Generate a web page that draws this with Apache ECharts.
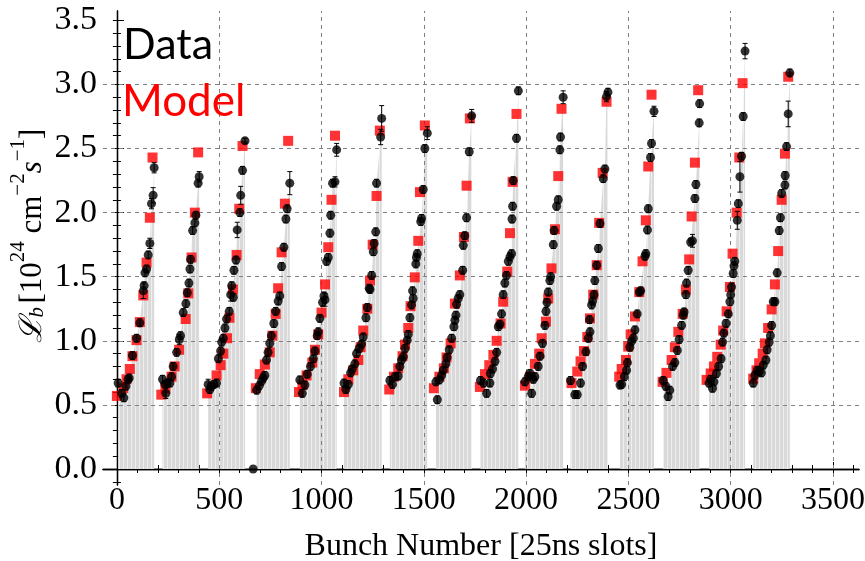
<!DOCTYPE html>
<html><head><meta charset="utf-8">
<script src="https://cdn.jsdelivr.net/npm/echarts@6/dist/echarts.min.js"></script>
<style>html,body{margin:0;padding:0;background:#fff}#c{width:865px;height:561px}</style>
</head><body><div id="c"></div>
<script>
// ---- tick labels / axes ----
const xTickLabels = [0, 500, 1000, 1500, 2000, 2500, 3000, 3500];
const yTickLabels = [0, 0.5, 1.0, 1.5, 2.0, 2.5, 3.0, 3.5];
const xGridValues = [500, 1000, 1500, 2000, 2500, 3000, 3500];
const yGridValues = [0.5, 1.0, 1.5, 2.0, 2.5, 3.0];
const xAxisTitle = 'Bunch Number [25ns slots]';
const legendLabels = ['Data', 'Model'];

// ---- measured bunch luminosity: [bunch, L, error] ----
const dataPoints = [
  // train 1
  [6,0.67,.03],[23,0.59,.03],[34,0.555,.03],[44,0.646,.03],[55,0.70,.03],[60,0.71,.03],[76,0.885,.03],[96,1.02,.03],[112,1.14,.03],[129,1.39,.06],[133,1.43,.03],[137,1.53,.03],[145,1.56,.03],[153,1.67,.03],[161,1.76,.04],[169,2.07,.04],[177,2.135,.06],[182,2.35,.04],
  // train 2
  [223,0.70,.03],[235,0.66,.03],[239,0.59,.04],[246,0.67,.03],[259,0.67,.03],[267,0.72,.03],[275,0.80,.03],[292,0.91,.03],[305,1.01,.04],[311,1.04,.03],[324,1.22,.03],[337,1.29,.03],[344,1.375,.03],[352,1.45,.03],[357,1.56,.03],[360,1.635,.03],[370,1.86,.03],[381,1.92,.03],[386,1.98,.03],[397,2.23,.03],[402,2.28,.04],
  // train 3
  [446,0.66,.04],[454,0.62,.03],[462,0.645,.03],[474,0.66,.03],[487,0.67,.03],[496,0.86,.03],[507,0.92,.03],[512,0.99,.03],[520,1.02,.03],[528,1.10,.03],[536,1.17,.03],[549,1.23,.03],[556,1.36,.05],[561,1.43,.03],[569,1.34,.03],[572,1.55,.03],[582,1.63,.03],[588,1.865,.06],[601,2.0,.03],[605,2.135,.07],[614,2.33,.03],[626,2.56,.02],
  [666,0.0,0],
  // train 4
  [683,0.615,.03],[696,0.65,.03],[707,0.685,.03],[715,0.71,.03],[723,0.73,.03],[731,0.85,.03],[739,0.91,.03],[747,0.98,.03],[755,1.04,.03],[767,1.135,.03],[776,1.23,.03],[788,1.31,.03],[796,1.35,.03],[805,1.58,.03],[816,1.73,.03],[826,1.95,.03],[832,2.03,.03],[845,2.23,.09],
  // train 5
  [894,0.695,.03],[906,0.59,.03],[919,0.655,.03],[930,0.74,.03],[946,0.80,.03],[960,0.86,.03],[968,0.92,.03],[979,1.04,.03],[984,1.07,.03],[992,1.175,.03],[1005,1.30,.03],[1012,1.35,.03],[1017,1.32,.05],[1025,1.62,.03],[1033,1.65,.03],[1041,1.84,.03],[1045,1.98,.03],[1054,2.23,.03],[1066,2.24,.04],[1074,2.49,.05],
  // train 6
  [1110,0.67,.03],[1119,0.62,.03],[1131,0.66,.03],[1142,0.75,.03],[1150,0.78,.03],[1163,0.82,.03],[1171,0.90,.03],[1184,0.94,.03],[1196,0.975,.03],[1204,1.03,.03],[1217,1.18,.03],[1224,1.26,.03],[1233,1.41,.03],[1237,1.40,.03],[1245,1.51,.03],[1253,1.695,.03],[1257,1.76,.03],[1265,1.85,.03],[1269,2.23,.03],[1289,2.59,.06],[1294,2.735,.1],
  // train 7
  [1334,0.69,.03],[1347,0.66,.03],[1359,0.72,.03],[1375,0.725,.03],[1383,0.80,.03],[1391,0.85,.03],[1400,0.875,.03],[1408,0.94,.03],[1419,1.005,.03],[1424,1.05,.03],[1432,1.18,.03],[1440,1.28,.03],[1445,1.39,.03],[1448,1.33,.03],[1461,1.60,.03],[1464,1.65,.03],[1468,1.68,.03],[1485,1.93,.03],[1489,1.955,.03],[1497,2.18,.03],[1505,2.50,.03],[1517,2.62,.05],
  // train 8
  [1559,0.68,.03],[1566,0.54,.03],[1576,0.695,.03],[1587,0.73,.03],[1595,0.77,.03],[1608,0.82,.03],[1614,0.87,.03],[1624,0.93,.03],[1636,1.02,.03],[1647,1.11,.03],[1652,1.16,.03],[1657,1.20,.03],[1660,1.285,.03],[1668,1.33,.03],[1676,1.36,.03],[1690,1.55,.03],[1693,1.745,.03],[1700,1.82,.03],[1709,1.96,.03],[1722,2.475,.03],[1734,2.755,.05],
  // train 9
  [1777,0.69,.03],[1792,0.67,.03],[1807,0.59,.03],[1823,0.67,.03],[1825,0.745,.03],[1836,0.78,.03],[1848,0.84,.03],[1856,0.91,.03],[1864,1.11,.03],[1872,1.13,.03],[1880,1.21,.03],[1888,1.36,.03],[1896,1.45,.03],[1904,1.51,.03],[1913,1.62,.03],[1921,1.655,.03],[1929,1.68,.03],[1931,1.95,.03],[1934,2.05,.03],[1937,2.25,.03],[1953,2.58,.03],[1962,2.95,.03],
  // train 10
  [1994,0.68,.03],[2010,0.72,.03],[2019,0.745,.03],[2027,0.59,.03],[2035,0.70,.03],[2043,0.72,.03],[2059,0.80,.03],[2068,0.88,.03],[2080,0.98,.03],[2092,1.12,.03],[2097,1.23,.03],[2102,1.30,.03],[2108,1.38,.03],[2116,1.47,.03],[2120,1.50,.03],[2133,1.75,.03],[2137,1.86,.03],[2149,2.05,.03],[2157,2.10,.03],[2165,2.49,.03],[2168,2.59,.03],[2181,2.90,.05],
  // train 11
  [2217,0.69,.03],[2238,0.58,.03],[2250,0.58,.03],[2266,0.67,.03],[2276,0.80,.03],[2292,0.915,.03],[2304,1.02,.03],[2310,1.165,.03],[2312,1.07,.03],[2320,1.28,.03],[2325,1.31,.03],[2332,1.36,.03],[2336,1.47,.03],[2345,1.59,.03],[2353,1.72,.03],[2361,1.915,.03],[2377,2.265,.03],[2385,2.34,.03],[2393,2.905,.04],[2400,2.94,.03],
  // train 12
  [2459,0.655,.03],[2467,0.66,.03],[2480,0.72,.03],[2491,0.77,.03],[2495,0.83,.03],[2507,0.95,.03],[2515,0.995,.03],[2524,1.02,.03],[2532,1.085,.03],[2543,1.21,.03],[2553,1.38,.03],[2560,1.39,.03],[2581,1.66,.03],[2585,1.68,.03],[2593,1.865,.03],[2597,2.03,.03],[2608,2.43,.03],[2613,2.54,.03],[2625,2.79,.04],
  // train 13
  [2670,0.69,.03],[2683,0.645,.03],[2694,0.565,.03],[2702,0.615,.03],[2716,0.80,.03],[2727,0.83,.03],[2739,0.925,.03],[2748,1.01,.03],[2760,1.12,.03],[2768,1.20,.03],[2772,1.225,.03],[2781,1.36,.03],[2784,1.45,.03],[2792,1.55,.03],[2804,1.77,.03],[2813,1.78,.05],[2825,2.11,.03],[2830,2.22,.03],[2846,2.70,.03],[2848,2.85,.03],
  // train 14
  [2894,0.67,.03],[2902,0.70,.03],[2911,0.63,.03],[2918,0.68,.03],[2930,0.745,.03],[2941,0.80,.03],[2953,0.86,.03],[2960,0.99,.03],[2966,1.06,.03],[2977,1.135,.03],[2988,1.21,.03],[2996,1.305,.03],[3000,1.36,.03],[3004,1.42,.03],[3012,1.525,.03],[3016,1.585,.03],[3020,1.62,.03],[3032,1.94,.07],[3037,2.07,.03],[3045,2.28,.12],[3053,2.44,.03],[3061,2.75,.03],[3070,3.26,.06],
  // train 15
  [3110,0.67,.03],[3118,0.73,.03],[3130,0.77,.03],[3139,0.76,.03],[3150,0.75,.03],[3159,0.81,.03],[3172,0.85,.03],[3178,0.93,.03],[3188,0.99,.03],[3194,1.04,.03],[3200,1.12,.03],[3208,1.305,.03],[3216,1.305,.03],[3227,1.53,.03],[3237,1.86,.03],[3243,1.96,.03],[3249,2.15,.03],[3265,2.215,.03],[3266,2.29,.03],[3273,2.515,.03],[3281,2.77,.1],[3289,3.09,.03]
];

// ---- model prediction: [bunch, L] ----
const modelPoints = [
  [0,0.57],[31,0.63],[47,0.70],[63,0.78],[76,0.88],[96,1.005],[112,1.146],[129,1.354],[145,1.61],[161,1.96],[174,2.43],
  [217,0.58],[237,0.63],[267,0.72],[282,0.80],[304,0.93],[336,1.17],[349,1.37],[365,1.65],[381,2.0],[397,2.47],
  [441,0.59],[487,0.73],[507,0.81],[520,0.90],[538,1.02],[550,1.18],[567,1.40],[585,1.67],[598,2.03],[614,2.52],
  [679,0.63],[698,0.74],[723,0.815],[747,0.91],[760,1.04],[776,1.21],[788,1.41],[805,1.69],[821,2.07],[837,2.56],
  [890,0.60],[907,0.655],[927,0.73],[955,0.83],[968,0.93],[984,1.05],[1000,1.22],[1017,1.44],[1033,1.73],[1049,2.10],[1066,2.60],
  [1110,0.60],[1131,0.70],[1155,0.77],[1180,0.85],[1191,0.95],[1204,1.08],[1224,1.25],[1237,1.47],[1250,1.75],[1269,2.13],[1285,2.64],
  [1331,0.62],[1354,0.72],[1375,0.785],[1396,0.88],[1408,0.97],[1424,1.10],[1435,1.27],[1456,1.495],[1473,1.78],[1481,2.16],[1505,2.68],
  [1549,0.63],[1576,0.72],[1598,0.785],[1611,0.87],[1631,0.98],[1652,1.29],[1676,1.51],[1696,1.81],[1709,2.21],[1725,2.735],
  [1774,0.64],[1799,0.74],[1820,0.81],[1840,0.89],[1856,1.00],[1875,1.135],[1888,1.305],[1908,1.54],[1921,1.84],[1934,2.24],[1953,2.77],
  [1994,0.65],[2019,0.72],[2043,0.82],[2064,0.90],[2076,1.02],[2097,1.15],[2108,1.33],[2124,1.565],[2141,1.87],[2157,2.285],[2173,2.81],
  [2222,0.67],[2250,0.76],[2266,0.84],[2283,0.92],[2299,1.03],[2312,1.175],[2328,1.36],[2345,1.59],[2357,1.92],[2374,2.31],[2393,2.865],
  [2455,0.72],[2467,0.78],[2488,0.85],[2499,0.955],[2511,1.05],[2532,1.19],[2553,1.38],[2569,1.62],[2585,1.94],[2597,2.36],[2613,2.92],
  [2667,0.68],[2686,0.75],[2711,0.85],[2727,0.95],[2744,1.07],[2765,1.21],[2781,1.40],[2797,1.635],[2809,1.97],[2825,2.39],[2841,2.955],
  [2882,0.695],[2902,0.745],[2918,0.80],[2934,0.875],[2951,0.97],[2963,1.08],[2980,1.23],[2996,1.42],[3009,1.68],[3029,2.0],[3042,2.43],[3058,3.01],
  [3110,0.705],[3126,0.77],[3139,0.825],[3156,0.90],[3167,0.98],[3183,1.10],[3200,1.245],[3216,1.44],[3232,1.70],[3249,2.10],[3265,2.46],[3281,3.06]
];

// ---------------- build ----------------
const X_MIN = -68, X_MAX = 3627, Y_MIN = -0.125, Y_MAX = 3.573;
const xMinorTicks = []; for (let i = 0; i <= 36; i++) xMinorTicks.push(i * 100);
const yMinorTicks = []; for (let i = -1; i <= 35; i++) yMinorTicks.push(+(i * 0.1).toFixed(1));

// group measured points into trains (for the grey stems area)
const sorted = dataPoints.filter(p => p[1] > 0).slice().sort((a, b) => a[0] - b[0]);
const trains = [];
let cur = [];
sorted.forEach(p => {
  if (cur.length && p[0] - cur[cur.length - 1][0] > 25) { trains.push(cur); cur = []; }
  cur.push([p[0], p[1]]);
});
if (cur.length) trains.push(cur);

// stripe pattern for the grey stems
const pc = document.createElement('canvas');
pc.width = 4; pc.height = 4;
const pctx = pc.getContext('2d');
pctx.fillStyle = '#d9d9d9'; pctx.fillRect(0, 0, 4, 4);
pctx.fillStyle = '#eeeeee'; pctx.fillRect(3, 0, 1, 4);

const SERIF = "'Liberation Serif','Times New Roman',serif";
const AX = '#000';

function baseX(extra) {
  return Object.assign({
    type: 'value', min: X_MIN, max: X_MAX, gridIndex: 0,
    splitLine: { show: false }, axisLine: { show: false },
    axisTick: { show: false }, axisLabel: { show: false }
  }, extra);
}
function baseY(extra) {
  return Object.assign({
    type: 'value', min: Y_MIN, max: Y_MAX, gridIndex: 0,
    splitLine: { show: false }, axisLine: { show: false },
    axisTick: { show: false }, axisLabel: { show: false }
  }, extra);
}

const series = [];
trains.forEach((t, i) => {
  const s = {
    type: 'line', data: t, xAxisIndex: 0, yAxisIndex: 0,
    showSymbol: false, symbol: 'none', silent: true, z: 1,
    lineStyle: { width: 0, opacity: 0 },
    areaStyle: { color: { image: pc, repeat: 'repeat' }, opacity: 1 },
    animation: false
  };
  if (i === 0) {
    s.markLine = {
      silent: true, symbol: 'none', z: 2, animation: false,
      label: { show: false },
      lineStyle: { color: '#808080', width: 1, type: [4, 4] },
      data: xGridValues.map(v => ({ xAxis: v })).concat(yGridValues.map(v => ({ yAxis: v })))
    };
  }
  series.push(s);
});

series.push({
  name: legendLabels[1], type: 'scatter', data: modelPoints, xAxisIndex: 0, yAxisIndex: 0,
  symbol: 'rect', symbolSize: 10, z: 3, itemStyle: { color: '#ff0000' }, animation: false
});
series.push({
  type: 'custom', xAxisIndex: 0, yAxisIndex: 0, z: 4, animation: false, silent: true,
  data: dataPoints.filter(p => p[2] > 0),
  encode: { x: 0, y: 1 },
  renderItem: function (params, api) {
    const x = api.value(0), y = api.value(1), e = api.value(2);
    const t = api.coord([x, y + e]), b = api.coord([x, y - e]);
    const c = 2.5, st = { stroke: '#000', lineWidth: 1 };
    return {
      type: 'group', children: [
        { type: 'line', shape: { x1: t[0], y1: t[1], x2: b[0], y2: b[1] }, style: st },
        { type: 'line', shape: { x1: t[0] - c, y1: t[1], x2: t[0] + c, y2: t[1] }, style: st },
        { type: 'line', shape: { x1: b[0] - c, y1: b[1], x2: b[0] + c, y2: b[1] }, style: st }
      ]
    };
  }
});
series.push({
  name: legendLabels[0], type: 'scatter', data: dataPoints.map(p => [p[0], p[1]]), xAxisIndex: 0, yAxisIndex: 0,
  symbol: 'circle', symbolSize: 9, z: 5, itemStyle: { color: '#000' }, animation: false
});

const chart = echarts.init(document.getElementById('c'), null, { renderer: 'canvas' });
chart.setOption({
  animation: false,
  backgroundColor: '#fff',
  grid: { left: 103, right: 6, top: 11, bottom: 76, containLabel: false, outerBoundsMode: 'none' },
  xAxis: [
    baseX({
      position: 'bottom',
      axisLine: { show: true, lineStyle: { color: AX, width: 1.3 } },
      axisTick: { show: true, inside: true, length: 7, customValues: xTickLabels, lineStyle: { color: AX } },
      axisLabel: { show: true, customValues: xTickLabels, color: '#000', fontFamily: SERIF, fontSize: 32, margin: 0,
        formatter: v => String(v) },
      name: xAxisTitle, nameLocation: 'middle', nameGap: 46,
      nameTextStyle: { fontFamily: SERIF, fontSize: 32, color: '#000' }
    }),
    baseX({
      position: 'bottom',
      axisTick: { show: true, inside: true, length: 4, customValues: xMinorTicks, lineStyle: { color: AX } }
    }),
    baseX({
      position: 'top',
      axisLine: { show: true, lineStyle: { color: AX, width: 1.3 } },
      axisTick: { show: true, inside: true, length: 4, customValues: xMinorTicks, lineStyle: { color: AX } }
    })
  ],
  yAxis: [
    baseY({
      position: 'left',
      axisLine: { show: true, lineStyle: { color: AX, width: 1.3 } },
      axisTick: { show: true, inside: true, length: 7, customValues: yTickLabels, lineStyle: { color: AX } },
      axisLabel: { show: true, customValues: yTickLabels, color: '#000', fontFamily: SERIF, fontSize: 34, margin: 6,
        formatter: v => v.toFixed(1) }
    }),
    baseY({
      position: 'left',
      axisTick: { show: true, inside: true, length: 4, customValues: yMinorTicks, lineStyle: { color: AX } }
    }),
    baseY({
      position: 'right',
      axisLine: { show: true, lineStyle: { color: AX, width: 1.3 } },
      axisTick: { show: true, inside: true, length: 4, customValues: yMinorTicks, lineStyle: { color: AX } }
    })
  ],
  graphic: [
    {
      type: 'text', x: 28, y: 236, rotation: Math.PI / 2, z: 10,
      style: {
        text: '{l|ℒ}{sb|b} {n|[10}{sp|24}{n| cm}{sp|−2}{it|s}{sp|−1}{n|]}',
        align: 'center', verticalAlign: 'middle',
        rich: {
          l: { fontFamily: SERIF, fontSize: 31, fontStyle: 'italic', fill: '#000', lineHeight: 40, verticalAlign: 'bottom' },
          n: { fontFamily: SERIF, fontSize: 31, fill: '#000', lineHeight: 40, verticalAlign: 'bottom' },
          it: { fontFamily: SERIF, fontSize: 31, fontStyle: 'italic', fill: '#000', lineHeight: 40, verticalAlign: 'bottom' },
          sb: { fontFamily: SERIF, fontSize: 21, fontStyle: 'italic', fill: '#000', lineHeight: 30, verticalAlign: 'bottom' },
          sp: { fontFamily: SERIF, fontSize: 21, fill: '#000', lineHeight: 20, verticalAlign: 'top' }
        }
      }
    },
    {
      type: 'text', x: 123, y: 24, z: 10,
      style: { text: legendLabels[0], fontFamily: "Lato,'Open Sans',sans-serif", fontSize: 43, fill: '#000', align: 'left', verticalAlign: 'top' }
    },
    {
      type: 'text', x: 122, y: 80, z: 10,
      style: { text: legendLabels[1], fontFamily: "Lato,'Open Sans',sans-serif", fontSize: 44, fill: '#ff0000', align: 'left', verticalAlign: 'top' }
    }
  ],
  series: series
});
</script>
</body></html>
